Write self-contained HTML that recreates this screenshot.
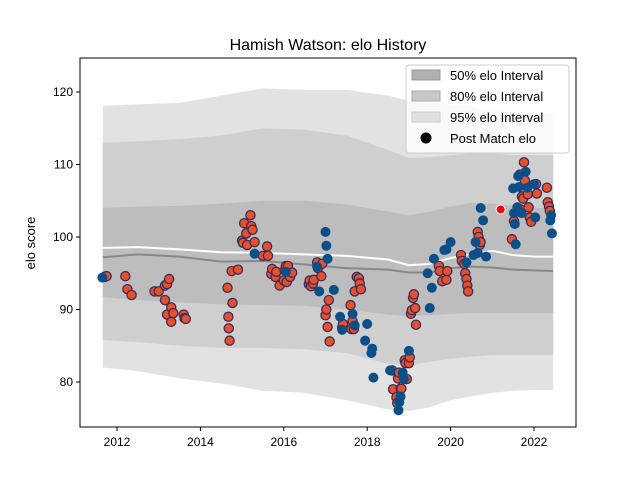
<!DOCTYPE html>
<html><head><meta charset="utf-8"><style>
body{margin:0;background:#fff;}
svg{font-family:"Liberation Sans","DejaVu Sans",sans-serif;}
</style></head><body>
<svg id="chart" width="640" height="480" viewBox="0 0 640 480" xmlns="http://www.w3.org/2000/svg">
<rect width="640" height="480" fill="#fff"/>
<text x="328" y="50" font-size="16" text-anchor="middle">Hamish Watson: elo History</text>
<g id="bands"></g>
<g id="lines"></g>
<g id="points"></g>
<rect x="80" y="58" width="496" height="369" fill="none" stroke="#000" stroke-width="1"/>
<g id="axes"></g>
<text transform="translate(35,243) rotate(-90)" font-size="13" text-anchor="middle">elo score</text>
<g>
<rect x="406" y="65" width="163" height="88" rx="3" fill="#fff" fill-opacity="0.8" stroke="#ccc"/>
<g><rect x="412" y="70" width="28" height="10" fill="#b0b0b0" stroke="#999"/><text x="450" y="80" font-size="13">50% elo Interval</text></g>
<g><rect x="412" y="91" width="28" height="10" fill="#c8c8c8" stroke="#aaa"/><text x="450" y="101" font-size="13">80% elo Interval</text></g>
<g><rect x="412" y="112" width="28" height="10" fill="#e0e0e0" stroke="#ccc"/><text x="450" y="122" font-size="13">95% elo Interval</text></g>
<g><circle cx="426" cy="138" r="5.5" fill="#000"/><text x="450" y="143" font-size="13">Post Match elo</text></g>
</g>
</svg>
<script>
const bandYears=[2011.66,2012.5,2013.5,2014.5,2015.5,2016.5,2017.5,2018.5,2019,2019.5,2020,2020.5,2021,2021.5,2022,2022.46];
const upper95=[118.1,118.3,118.5,119.5,120.5,120.3,120.3,119.5,118.8,118.5,118.3,118,117.5,117.2,117,117];
const lower95=[82,81.5,80.5,79.8,78.8,78.5,77.5,76.2,76,76.5,77.5,78,78.5,78.8,78.9,78.9];
const upper80=[113,113.2,113.5,114,115,114.8,114,112,110.9,111,111.3,111.5,111.5,111.3,111.3,111.3];
const lower80=[85.8,85.5,85,84.7,84.7,84.5,84,82.5,82.3,82.8,83.2,83.5,83.7,83.7,83.7,83.7];
const upper50=[104,104.2,104.3,104.6,105,105,104.5,103.5,103,103.5,104.2,104.7,104.6,104.3,104,104];
const lower50=[91.7,91.3,91,90.7,90.6,90.5,90,89.3,89.1,89.2,89.4,89.5,89.5,89.5,89.5,89.5];
const medianVals=[97.2,97.6,97.3,96.6,96.7,96.2,95.7,95.5,95.1,95.1,95.7,95.9,95.8,95.5,95.4,95.3];
const meanVals=[98.5,98.6,98.3,97.9,97.8,97.6,97.4,96.9,96.1,96.3,97.1,97.6,98.1,97.5,97.3,97.3];
const orangeYears=[2011.7,2011.75,2012.2,2012.25,2012.35,2012.9,2013,2013.15,2013.15,2013.2,2013.2,2013.25,2013.3,2013.3,2013.35,2013.6,2013.62,2013.65,2014.65,2014.67,2014.68,2014.7,2014.75,2014.77,2014.9,2015,2015.02,2015.05,2015.1,2015.12,2015.2,2015.22,2015.25,2015.3,2015.5,2015.6,2015.62,2015.7,2015.72,2015.8,2015.82,2015.9,2016,2016.02,2016.05,2016.07,2016.1,2016.12,2016.15,2016.2,2016.6,2016.62,2016.65,2016.7,2016.72,2016.8,2016.82,2016.9,2016.92,2017,2017.02,2017.05,2017.08,2017.1,2017.4,2017.42,2017.6,2017.62,2017.65,2017.68,2017.7,2017.75,2017.8,2017.82,2017.85,2018.6,2018.62,2018.7,2018.72,2018.74,2018.76,2018.8,2018.82,2018.9,2018.92,2018.95,2019,2019.02,2019.05,2019.07,2019.1,2019.12,2019.15,2019.17,2019.72,2019.74,2019.8,2019.9,2019.92,2020.25,2020.27,2020.33,2020.35,2020.38,2020.4,2020.42,2020.65,2020.67,2020.7,2020.72,2021.47,2021.52,2021.66,2021.68,2021.71,2021.74,2021.76,2021.78,2021.85,2021.87,2021.9,2021.93,2022.05,2022.07,2022.31,2022.33,2022.36,2022.38];
const orangeElo=[94.5,94.6,94.6,92.8,92,92.5,92.5,91.3,93.3,89.3,93.5,94.2,90.3,88.3,89.5,89.3,88.8,88.7,93,89,87.4,85.7,95.3,90.9,95.5,99.5,99.2,101.9,100.5,98.9,103,101.5,101,99.3,97.4,98.7,97.4,94.9,95.6,94.5,95.2,93.3,94,95.4,96,93.8,96,95,94.5,95.1,93.5,94,93.2,93.6,94.1,96.5,95.7,94.6,96.3,89.2,90,87.6,91.3,85.6,87.5,88,90.6,87.3,88.4,87.3,92.5,94.5,94.3,93.6,92.8,81.6,79,77.9,77.1,80.5,81.3,79.1,79.1,83,82.6,80.4,82.6,83.4,89.4,89.9,91.6,92.1,90.2,87.9,96,95.3,93.9,94.1,95.3,97.5,96.7,96.3,95,94.2,93.3,92.5,100.7,100,98.9,99.3,99.7,102.2,108.6,103.8,105.6,105.3,110.3,107.8,105.9,104.1,102.7,102.1,107.3,106,106.8,104.8,104.2,103.6];
const blueYears=[2011.65,2015.3,2016.05,2016.8,2016.85,2017,2017.02,2017.05,2017.2,2017.35,2017.4,2017.65,2017.7,2017.95,2018.0,2018.1,2018.12,2018.15,2018.55,2018.75,2018.77,2018.8,2018.85,2018.88,2019,2019.45,2019.5,2019.55,2019.6,2019.85,2019.9,2020.0,2020.38,2020.55,2020.6,2020.65,2020.72,2020.78,2020.85,2021.5,2021.52,2021.54,2021.56,2021.6,2021.62,2021.64,2021.7,2021.8,2021.84,2022.0,2022.03,2022.39,2022.41,2022.43];
const blueElo=[94.4,97.7,95.2,95.9,92.5,100.7,98.8,97,92.7,89,87.2,89.4,87.8,85.7,88,84,84.6,80.6,81.6,76.1,77.2,78,81.3,80.4,84.3,95,90.2,93,97,98.2,98.3,99.3,96.5,97.5,99.3,97.8,104,102.3,97.3,106.7,103.3,101.8,99,104.1,108.4,106.9,103.3,109,106.8,107.3,102.7,102.3,103,100.5];
const specialYear=[2021.2];
const specialElo=[103.8];
const xTicks=[2012,2014,2016,2018,2020,2022];
const yTicks=[80,90,100,110,120];

const NS="http://www.w3.org/2000/svg";
function xs(v){return 117+(v-2012)*41.7;}
function ys(v){return 382-(v-80)*7.25;}
function mk(tag,attrs,parent){const e=document.createElementNS(NS,tag);for(const k in attrs)e.setAttribute(k,attrs[k]);parent.appendChild(e);return e;}
function bandPath(up,lo){let d="";bandYears.forEach((y,i)=>{d+=(i?"L":"M")+xs(y)+","+ys(up[i]);});for(let i=bandYears.length-1;i>=0;i--)d+="L"+xs(bandYears[i])+","+ys(lo[i]);return d+"Z";}
const bands=document.getElementById('bands');
let b=mk('path',{d:bandPath(upper95,lower95),fill:'#e2e2e2'},bands);


b=mk('path',{d:bandPath(upper80,lower80),fill:'#cfcfcf'},bands);


b=mk('path',{d:bandPath(upper50,lower50),fill:'#bdbdbd'},bands);


const lines=document.getElementById('lines');
function linePath(v){return bandYears.map((y,i)=>(i?"L":"M")+xs(y)+","+ys(v[i])).join("");}
let l=mk('path',{d:linePath(medianVals),fill:'none',stroke:'#888',"stroke-width":2},lines);


l=mk('path',{d:linePath(meanVals),fill:'none',stroke:'#fff',"stroke-width":2},lines);


const pts=document.getElementById('points');
orangeYears.forEach((y,i)=>{const c=mk('circle',{cx:xs(y),cy:ys(orangeElo[i]),r:4.6,fill:'#e8502a',stroke:'#3a2c5c',"stroke-width":1.3},pts);

});
blueYears.forEach((y,i)=>{const c=mk('circle',{cx:xs(y),cy:ys(blueElo[i]),r:5,fill:'#0b4f88'},pts);

});
specialYear.forEach((y,i)=>{const c=mk('circle',{cx:xs(y),cy:ys(specialElo[i]),r:4.5,fill:'#ff0000',stroke:'#fff',"stroke-width":1},pts);

});
const axes=document.getElementById('axes');
xTicks.forEach(t=>{const g=mk('g',{},axes);


mk('line',{x1:xs(t),x2:xs(t),y1:427,y2:431,stroke:'#000'},g);
const tx=mk('text',{x:xs(t),y:446,"font-size":12,"text-anchor":"middle"},g);tx.textContent=t;});
yTicks.forEach(t=>{const g=mk('g',{},axes);


mk('line',{x1:76,x2:80,y1:ys(t),y2:ys(t),stroke:'#000'},g);
const tx=mk('text',{x:73,y:ys(t)+4,"font-size":12,"text-anchor":"end"},g);tx.textContent=t;});
</script>
</body></html>
